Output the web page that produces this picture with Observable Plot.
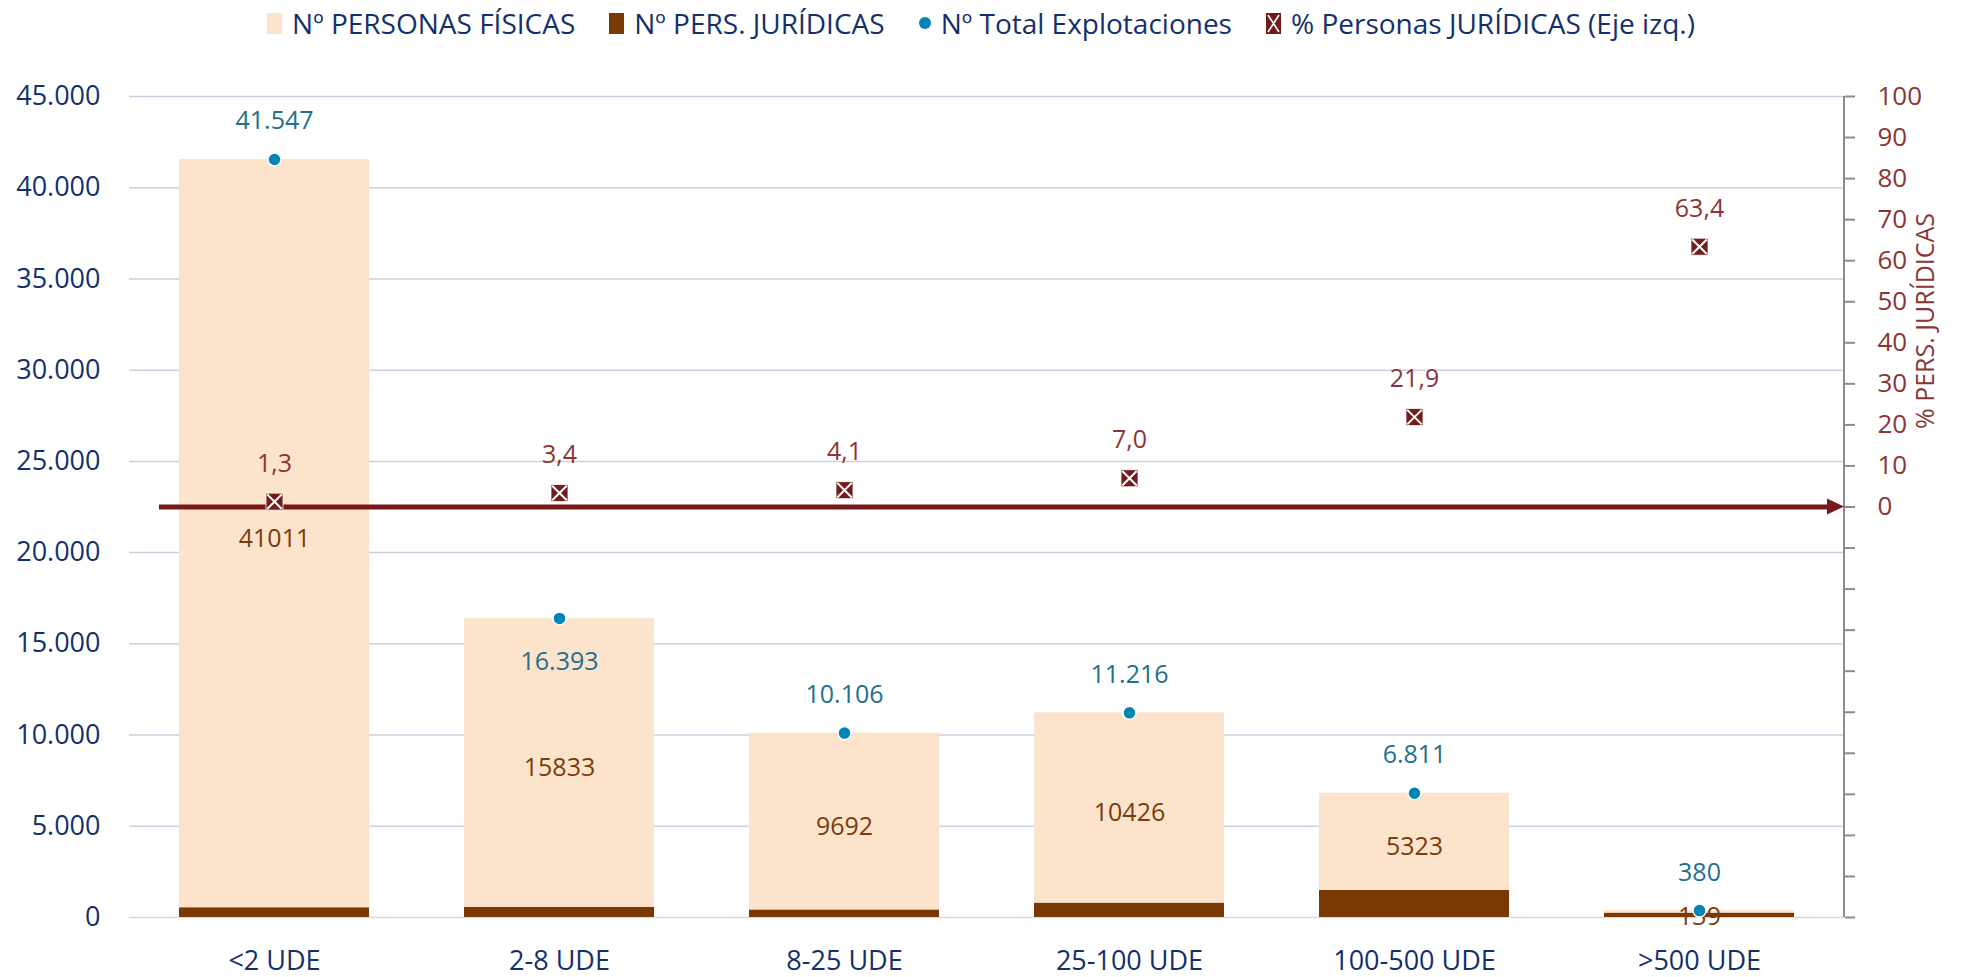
<!DOCTYPE html>
<html><head><meta charset="utf-8">
<script src="https://cdn.jsdelivr.net/npm/d3@7"></script>
<script src="https://cdn.jsdelivr.net/npm/@observablehq/plot@0.6"></script>
<style>
body{margin:0;background:#fff;font-family:"Open Sans",sans-serif;}
#legend{height:46px;display:flex;justify-content:center;align-items:center;gap:34px;font-size:28px;color:#14306b;}
.item{display:flex;align-items:center;gap:10px;white-space:nowrap}
.sw{display:inline-block;width:15px;height:21px}
.dot{display:inline-block;width:12px;height:12px;border-radius:50%;background:#0085b5}
</style></head><body>
<div id="legend"></div>
<div id="chart"></div>
<script>
// ---- data ----
const categories = ["<2 UDE", "2-8 UDE", "8-25 UDE", "25-100 UDE", "100-500 UDE", ">500 UDE"];
const fisicas = [41011, 15833, 9692, 10426, 5323, 139];
const juridicas = [536, 560, 414, 790, 1488, 241];
const totales = [41547, 16393, 10106, 11216, 6811, 380];
const pctJuridicas = [1.3, 3.4, 4.1, 7.0, 21.9, 63.4];
const leftTicks = [0, 5000, 10000, 15000, 20000, 25000, 30000, 35000, 40000, 45000];
const rightTicks = [-100, -90, -80, -70, -60, -50, -40, -30, -20, -10, 0, 10, 20, 30, 40, 50, 60, 70, 80, 90, 100];
const seriesNames = ["Nº PERSONAS FÍSICAS", "Nº PERS. JURÍDICAS", "Nº Total Explotaciones", "% Personas JURÍDICAS (Eje izq.)"];
const rightTitle = "% PERS. JURÍDICAS";

// colours
const C_FIS = "#fce3cc", C_JUR = "#7a3803", C_DOT = "#0085b5", C_PCT = "#731c1c";
const C_TXT = "#13306b", C_TOT = "#23708c", C_FISLBL = "#7a3c0a", C_PCTLBL = "#8b3535";

// right axis (percent) shares the left scale: 0% at 22500, 100% at 45000
const PCT_ZERO = 22500, PCT_UNIT = 225;
const toLeft = p => PCT_ZERO + p * PCT_UNIT;

const rows = categories.map((c, i) => ({
  cat: c, fis: fisicas[i], jur: juridicas[i], total: totales[i],
  pct: pctJuridicas[i], pctY: toLeft(pctJuridicas[i])
}));

const fmt = v => d3.format(",")(v).replace(/,/g, ".");
const pctFmt = v => v.toFixed(1).replace(".", ",");

// legend
const legend = d3.select("#legend");
const swatches = [
  `<span class="sw" style="background:${C_FIS}"></span>`,
  `<span class="sw" style="background:${C_JUR}"></span>`,
  `<span class="dot"></span>`,
  `<svg width="15" height="21"><rect width="15" height="21" fill="${C_PCT}"/><path d="M2,2L13,19M13,2L2,19" stroke="#fff" stroke-width="1.6"/></svg>`
];
seriesNames.forEach((n, i) => {
  legend.append("span").attr("class", "item").html(swatches[i] + `<span>${n}</span>`);
});

const xSymbol = {
  draw(ctx, size) {
    const s = Math.sqrt(size) / 2;
    ctx.moveTo(-s, -s); ctx.lineTo(s, s);
    ctx.moveTo(s, -s); ctx.lineTo(-s, s);
  }
};

const chart = Plot.plot({
  width: 1962, height: 931,
  marginLeft: 129, marginRight: 118, marginTop: 50, marginBottom: 60,
  style: {fontFamily: "'Open Sans', sans-serif", background: "transparent"},
  x: {domain: categories, paddingInner: 0.335, paddingOuter: 0.1675, label: null},
  y: {domain: [0, 45000], label: null},
  marks: [
    Plot.ruleY(leftTicks.filter(d => d > 0), {stroke: "#c9d0e0", strokeWidth: 1.5}),
    Plot.ruleY([0], {stroke: "#d9d9d9", strokeWidth: 1.5}),
    Plot.axisY({ticks: leftTicks, tickFormat: fmt, tickSize: 0, tickPadding: 29, fontSize: 27, fill: C_TXT, label: null}),
    Plot.axisY({anchor: "right", ticks: rightTicks.map(toLeft),
      tickFormat: v => { const p = Math.round((v - PCT_ZERO) / PCT_UNIT); return p >= 0 ? String(p) : ""; },
      tickSize: 10, tickPadding: 23, stroke: "#8c8c8c", strokeWidth: 2, fill: C_PCTLBL, fontSize: 26, label: null}),
    Plot.text([rightTitle], {frameAnchor: "right", text: d => d, rotate: -90, textAnchor: "middle", dx: 81, dy: -186, fontSize: 25, fill: C_PCTLBL}),
    Plot.axisX({tickSize: 0, tickPadding: 33, fontSize: 27, fill: C_TXT, label: null}),
    Plot.barY(rows, {x: "cat", y1: 0, y2: "jur", fill: C_JUR}),
    Plot.barY(rows, {x: "cat", y1: "jur", y2: "total", fill: C_FIS}),
    Plot.ruleY([PCT_ZERO], {stroke: "#76191c", strokeWidth: 5, insetLeft: 30, insetRight: 14}),
    (index, scales, values, dims) => {
      const g = d3.create("svg:g");
      const x = dims.width - dims.marginRight;
      g.append("line").attr("x1", x).attr("x2", x)
        .attr("y1", dims.marginTop).attr("y2", dims.height - dims.marginBottom)
        .attr("stroke", "#8c8c8c").attr("stroke-width", 2);
      const y = scales.y(PCT_ZERO);
      g.append("path").attr("d", `M${x},${y}L${x - 17},${y - 8}L${x - 17},${y + 8}Z`).attr("fill", "#76191c");
      return g.node();
    },
    Plot.text(rows, {x: "cat", y: d => d.jur + d.fis / 2, text: d => String(d.fis), fill: C_FISLBL, fontSize: 25, dy: 5}),
    Plot.dot(rows, {x: "cat", y: "total", r: 6.5, fill: C_DOT, stroke: "white", strokeWidth: 1.5}),
    Plot.text(rows.filter(d => d.cat !== "2-8 UDE"), {x: "cat", y: "total", text: d => fmt(d.total), dy: -38, fill: C_TOT, fontSize: 25}),
    Plot.text(rows.filter(d => d.cat === "2-8 UDE"), {x: "cat", y: "total", text: d => fmt(d.total), dy: 44, fill: C_TOT, fontSize: 25}),
    Plot.dot(rows, {x: "cat", y: "pctY", symbol: "square", r: 9.6, fill: C_PCT, stroke: "white", strokeWidth: 0.8}),
    Plot.dot(rows, {x: "cat", y: "pctY", symbol: xSymbol, r: 8.2, stroke: "white", strokeWidth: 2, fill: "none"}),
    Plot.text(rows, {x: "cat", y: "pctY", text: d => pctFmt(d.pct), dy: -38, fill: C_PCTLBL, fontSize: 25})
  ]
});
document.getElementById("chart").append(chart);
</script>
</body></html>
